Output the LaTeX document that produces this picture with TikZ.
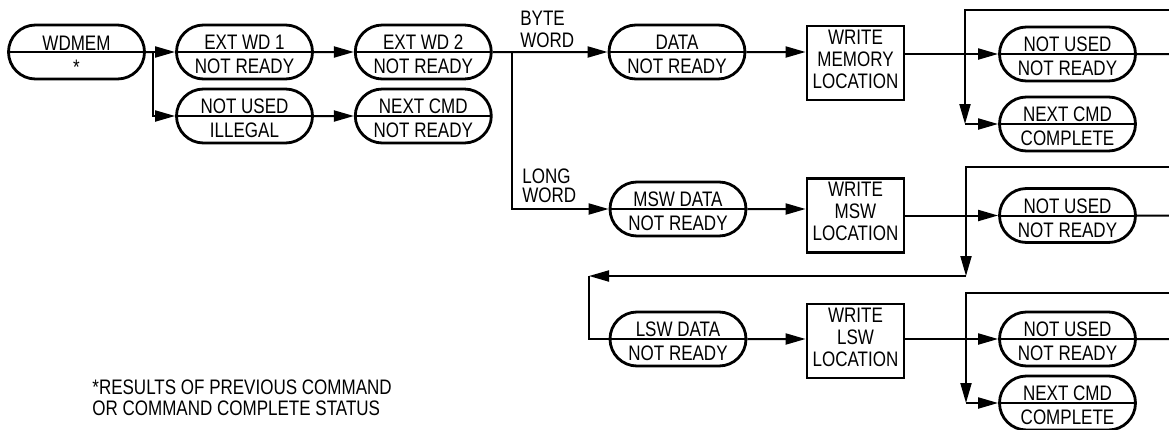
\documentclass[tikz,border=0pt]{standalone}
\usepackage{fontspec}
\setmainfont{Liberation Sans}[FakeStretch=0.81]
\usepackage{tikz}
\usetikzlibrary{arrows.meta,positioning,shapes.misc}
\definecolor{cInk}{HTML}{000000}
\newcommand{\hi}{\rule{0pt}{10pt}}
\newcommand{\lo}{\rule[-4pt]{0pt}{4pt}}
\tikzset{
  >={Triangle[length=10pt,width=5.5pt]},
  state/.style ={rounded rectangle,draw=cInk,line width=1.4pt,minimum width=68pt,
                 minimum height=27pt,inner sep=0pt,align=center,
                 font=\fontsize{10.5pt}{12pt}\selectfont,
                 path picture={\draw[line width=1pt,cInk]
                   (path picture bounding box.west) -- (path picture bounding box.east);}},
  wbox/.style  ={rectangle,draw=cInk,line width=1.4pt,minimum width=48.5pt,
                 minimum height=37pt,inner sep=0pt,align=center,
                 font=\fontsize{10.5pt}{11pt}\selectfont},
  ar/.style    ={->,line width=1pt,cInk},
  ln/.style    ={line width=1pt,cInk},
  lbl/.style   ={inner sep=0pt,align=left,font=\fontsize{10.5pt}{10.5pt}\selectfont},
}

\begin{document}
\begin{tikzpicture}[x=0.5pt,y=-0.5pt]
\useasboundingbox (0,0) rectangle (1169,429);
% command entry
\node[state] (wdmem) at (76.5,52) {\hi WDMEM\\*};
\coordinate (j1) at (153,52);
\node[state] (ext1) at (244.5,52) {\hi EXT WD 1\\NOT READY};
\node[state,right=20pt of ext1] (ext2) {\hi EXT WD 2\\NOT READY};
\node[state] (unused1) at (244.5,116) {\hi NOT USED\\ILLEGAL};
\node[state,right=20pt of unused1] (nextnr) {\hi NEXT CMD\\NOT READY};
\draw[ln] (wdmem) -- (j1);
\draw[ar] (j1) -- (ext1);
\draw[ar] (j1) |- (unused1);
\draw[ar] (ext1) -- (ext2);
\draw[ar] (unused1) -- (nextnr);
% byte word
\coordinate (j2) at (512,52);
\node[lbl,anchor=south west] (byte) at (520,48) {BYTE\\[0.5pt]WORD};
\node[state] (data) at (677,52) {\hi DATA\\NOT READY};
\node[wbox] (wml) at (855.5,63) {WRITE\\MEMORY\\LOCATION\lo};
\node[state] (nu1) at (1067.5,54) {\hi NOT USED\\NOT READY};
\node[state] (nc1) at (1067.5,124) {\hi NEXT CMD\\COMPLETE};
\coordinate (e1) at (1169,10);
\coordinate (k1) at (965,124);
\draw[ar] (ext2) -- (data);
\draw[ar] (data) -- (data -| wml.west);
\draw[ar] (nu1 -| wml.east) -- (nu1);
\draw[ln] (nu1) -- (nu1 -| e1);
\draw[ar] (e1) -| (k1);
\draw[ar] (k1) -- (nc1);
% long word, msw
\node[lbl,anchor=south west] (long) at (522,203.5) {LONG\\[-1pt]WORD};
\node[state] (msw) at (678,209) {\hi MSW DATA\\NOT READY};
\node[wbox] (wmsw) at (855.5,215.5) {WRITE\\MSW\\LOCATION\lo};
\node[state] (nu2) at (1067.5,215.5) {\hi NOT USED\\NOT READY};
\coordinate (e2) at (1169,167);
\coordinate (k2) at (966,276);
\coordinate (k3) at (589,276);
\draw[ar] (j2) |- (msw);
\draw[ar] (msw) -- (msw -| wmsw.west);
\draw[ar] (wmsw) -- (nu2);
\draw[ln] (nu2) -- (nu2 -| e2);
\draw[ar] (e2) -| (k2);
\draw[ar] (k2) -- (k3);
% lsw
\node[state] (lsw) at (678,339) {\hi LSW DATA\\NOT READY};
\node[wbox] (wlsw) at (855.5,341) {WRITE\\LSW\\LOCATION\lo};
\node[state] (nu3) at (1067.5,339) {\hi NOT USED\\NOT READY};
\node[state] (nc3) at (1067.5,403) {\hi NEXT CMD\\COMPLETE};
\coordinate (e3) at (1169,293);
\coordinate (k4) at (966,403);
\draw[ln] (k3) |- (lsw);
\draw[ar] (lsw) -- (lsw -| wlsw.west);
\draw[ar] (nu3 -| wlsw.east) -- (nu3);
\draw[ln] (nu3) -- (nu3 -| e3);
\draw[ar] (e3) -| (k4);
\draw[ar] (k4) -- (nc3);
% footnote
\node[lbl,anchor=north west] (note) at (92,379.5) {*RESULTS OF PREVIOUS COMMAND\\OR COMMAND COMPLETE STATUS};
\end{tikzpicture}
\end{document}
